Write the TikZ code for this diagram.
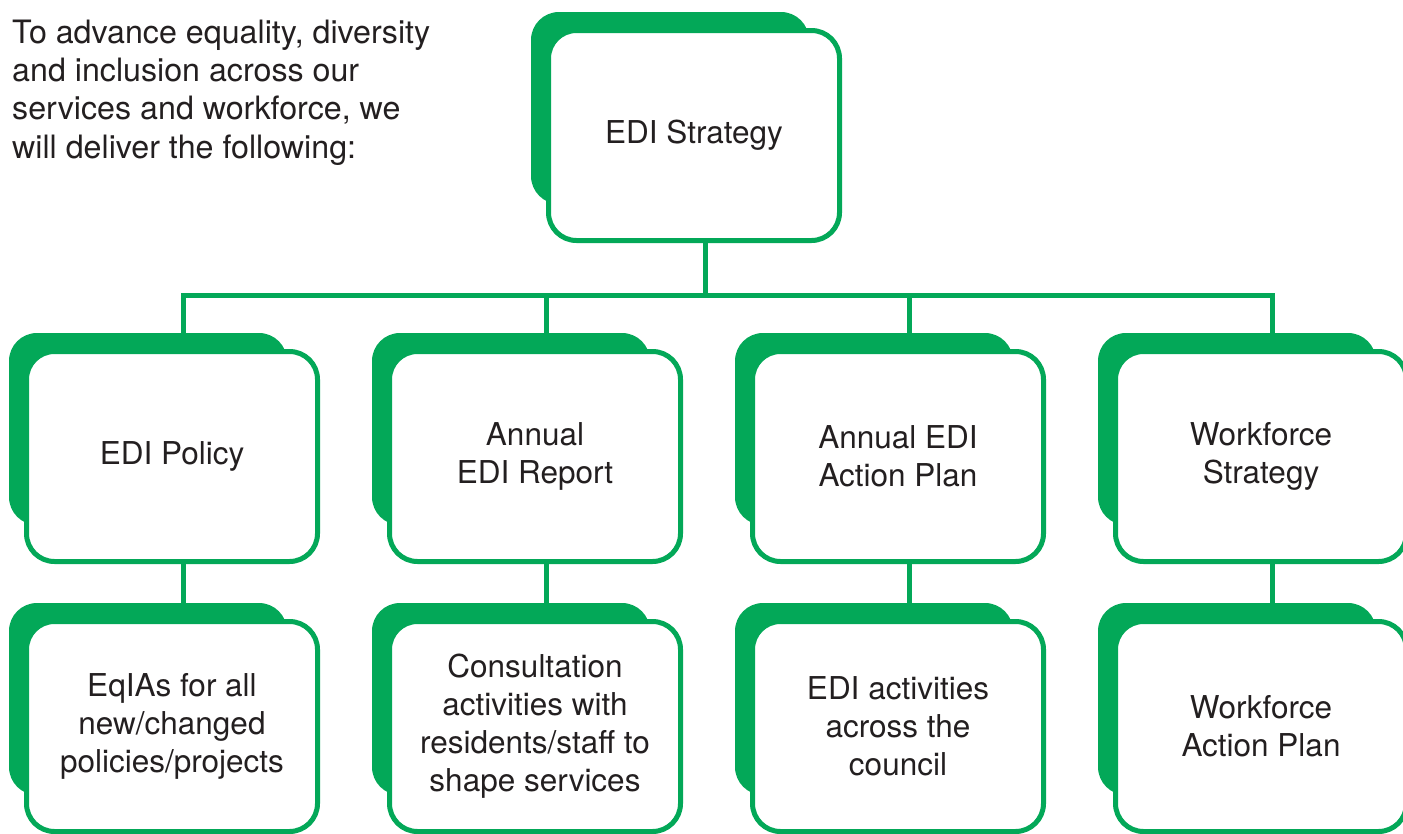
\documentclass[tikz,border=0pt]{standalone}
\usepackage{fontspec}
\setmainfont{TeX Gyre Heros}
\definecolor{edigreen}{HTML}{03A858}
\definecolor{ink}{HTML}{231F20}
\begin{document}
\begin{tikzpicture}[x=1pt,y=-1pt,
  backbox/.style={fill=edigreen, draw=none, rounded corners=28pt,
    minimum width=278pt, minimum height=192pt, inner sep=0pt},
  frontbox/.style={fill=white, draw=edigreen, line width=5pt, rounded corners=28pt,
    minimum width=291pt, minimum height=210pt, align=center,
    font=\fontsize{31.5}{38}\selectfont, text=ink, inner sep=0pt},
  conn/.style={draw=edigreen, line width=5pt},
  intro/.style={align=left, font=\fontsize{32.2}{38.3}\selectfont, text=ink, inner sep=0pt}]
\useasboundingbox (0,0) rectangle (1403,833);
\clip (0,0) rectangle (1403,833);

% intro text
\node[intro, anchor=north west] (intro) at (12,19.5)
  {To advance equality, diversity\\and inclusion across our\\services and workforce, we\\will deliver the following:};

% junction coordinates
\coordinate (j0) at (705,295);
\coordinate (j1) at (183,295);
\coordinate (j2) at (546,295);
\coordinate (j3) at (909,295);
\coordinate (j4) at (1272,295);

% box geometry (front centres / back centres)
\path (694,135.5) coordinate (c0) (670,108) coordinate (b0);
\path (172,456.5) coordinate (c1) (148,429) coordinate (b1);
\path (535,456.5) coordinate (c2) (511,429) coordinate (b2);
\path (898,456.5) coordinate (c3) (874,429) coordinate (b3);
\path (1261,456.5) coordinate (c4) (1237,429) coordinate (b4);
\path (172,726.5) coordinate (d1) (148,699) coordinate (e1);
\path (535,726.5) coordinate (d2) (511,699) coordinate (e2);
\path (898,726.5) coordinate (d3) (874,699) coordinate (e3);
\path (1261,726.5) coordinate (d4) (1237,699) coordinate (e4);

% invisible placeholders to name nodes for connectors
\node[frontbox, draw=none, fill=none] (n0) at (c0) {};
\node[frontbox, draw=none, fill=none] (n1) at (c1) {};
\node[frontbox, draw=none, fill=none] (n2) at (c2) {};
\node[frontbox, draw=none, fill=none] (n3) at (c3) {};
\node[frontbox, draw=none, fill=none] (n4) at (c4) {};
\node[frontbox, draw=none, fill=none] (m1) at (d1) {};
\node[frontbox, draw=none, fill=none] (m2) at (d2) {};
\node[frontbox, draw=none, fill=none] (m3) at (d3) {};
\node[frontbox, draw=none, fill=none] (m4) at (d4) {};

% connectors
\draw[conn] (j0 |- n0.south) -- (j0);
\draw[conn] (j1 |- n1.north) -- (j1) -- (j4) -- (j4 |- n4.north);
\draw[conn] (j2) -- (j2 |- n2.north);
\draw[conn] (j3) -- (j3 |- n3.north);
\draw[conn] (j1 |- n1.south) -- (j1 |- m1.north);
\draw[conn] (j2 |- n2.south) -- (j2 |- m2.north);
\draw[conn] (j3 |- n3.south) -- (j3 |- m3.north);
\draw[conn] (j4 |- n4.south) -- (j4 |- m4.north);

% back boxes
\node[backbox] (s0) at (b0) {};
\node[backbox] (s1) at (b1) {};
\node[backbox] (s2) at (b2) {};
\node[backbox] (s3) at (b3) {};
\node[backbox] (s4) at (b4) {};
\node[backbox] (t1) at (e1) {};
\node[backbox] (t2) at (e2) {};
\node[backbox] (t3) at (e3) {};
\node[backbox] (t4) at (e4) {};

% front boxes
\node[frontbox] (f0) at (c0) {EDI Strategy};
\node[frontbox] (f1) at (c1) {EDI Policy};
\node[frontbox] (f2) at (c2) {Annual\\EDI Report};
\node[frontbox] (f3) at (c3) {Annual EDI\\Action Plan};
\node[frontbox] (f4) at (c4) {Workforce\\Strategy};
\node[frontbox] (g1) at (d1) {EqIAs for all\\new/changed\\policies/projects};
\node[frontbox] (g2) at (d2) {Consultation\\activities with\\residents/staff to\\shape services};
\node[frontbox] (g3) at (d3) {EDI activities\\across the\\council};
\node[frontbox] (g4) at (d4) {Workforce\\Action Plan};
\end{tikzpicture}
\end{document}
